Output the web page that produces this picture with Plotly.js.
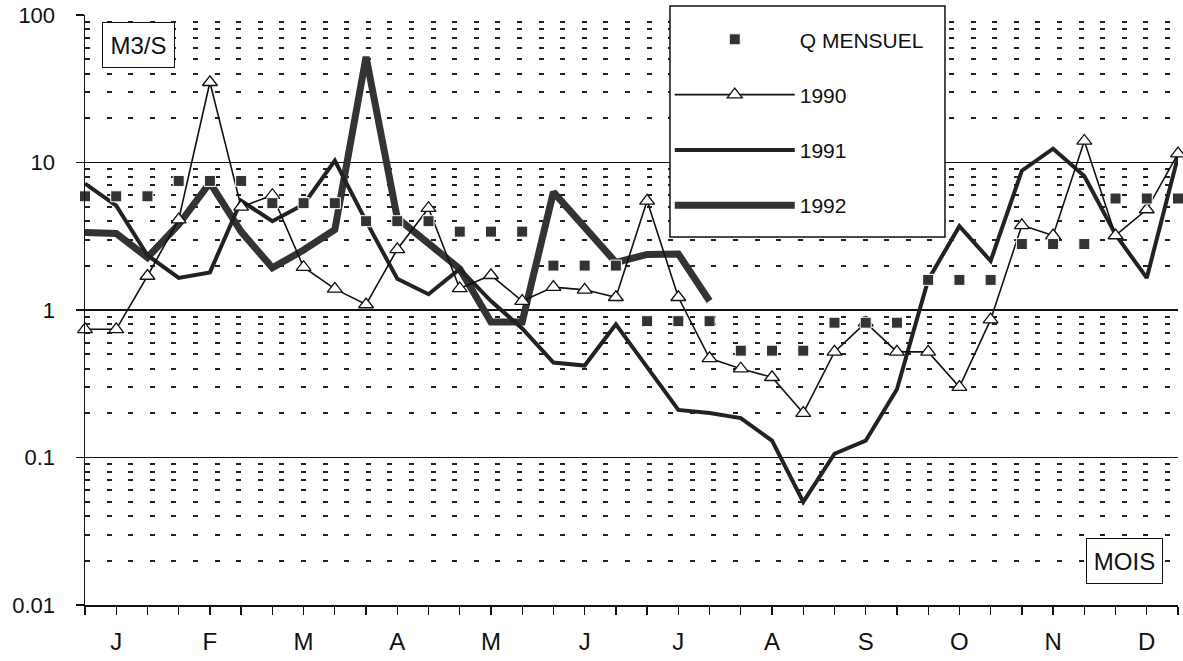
<!DOCTYPE html>
<html><head><meta charset="utf-8">
<script src="https://cdn.plot.ly/plotly-3.0.1.min.js"></script>
<style>html,body{margin:0;padding:0;background:#fff}</style>
</head><body><div id="chart" style="width:1183px;height:661px"></div>
<script>
// decade positions (3 per month)
const positions = [0,1,2,3,4,5,6,7,8,9,10,11,12,13,14,15,16,17,18,19,20,21,22,23,24,25,26,27,28,29,30,31,32,33,34,35];
const monthLabels = ['J','F','M','A','M','J','J','A','S','O','N','D'];
const qMensuel = [5.9,5.9,5.9, 7.5,7.5,7.5, 5.3,5.3,5.3, 4.0,4.0,4.0, 3.4,3.4,3.4, 2.0,2.0,2.0,
                  0.84,0.84,0.84, 0.53,0.53,0.53, 0.82,0.82,0.82, 1.6,1.6,1.6, 2.8,2.8,2.8, 5.7,5.7,5.7];
const y1990 = [0.74,0.74,1.7,4.1,35,5.0,6.0,1.95,1.39,1.09,2.58,4.9,1.4,1.72,1.15,1.43,1.37,1.22,
               5.5,1.22,0.47,0.4,0.35,0.2,0.52,0.82,0.52,0.52,0.3,0.86,3.75,3.2,14,3.2,4.8,11.5];
const y1991 = [7.2,5.1,2.35,1.65,1.8,5.5,4.0,5.2,10.3,4.0,1.63,1.28,1.9,1.15,0.75,0.44,0.42,0.8,
               0.41,0.21,0.2,0.185,0.13,0.05,0.106,0.13,0.29,1.6,3.7,2.15,8.8,12.4,8.1,3.25,1.65,11];
const y1992 = [3.35,3.3,2.27,3.8,7.3,3.4,1.93,2.55,3.5,52,4.2,2.86,1.9,0.83,0.83,6.3,3.6,2.1,2.38,2.4,1.15];
const yTickVals = [0.01,0.1,1,10,100];
const yTickText = ['0.01','0.1','1','10','100'];
const yMinorVals = [0.02,0.03,0.04,0.05,0.06,0.07,0.08,0.09,0.2,0.3,0.4,0.5,0.6,0.7,0.8,0.9,
                    2,3,4,5,6,7,8,9,20,30,40,50,60,70,80,90];

const xTickText = positions.map(p => (p % 3 === 1) ? monthLabels[(p - 1) / 3] : '');
const FONT = 'Liberation Sans, Arial, Helvetica, sans-serif';

const traces = [
  {x: positions.slice(0, y1992.length), y: y1992, name: '1992', mode: 'lines', type: 'scatter',
   line: {color: '#333', width: 7}, legendgroup: 'd', legendrank: 4, cliponaxis: false},
  {x: positions, y: y1991, name: '1991', mode: 'lines', type: 'scatter',
   line: {color: '#222', width: 4}, legendgroup: 'c', legendrank: 3, cliponaxis: false},
  {x: positions, y: y1990, name: '1990', mode: 'lines+markers', type: 'scatter',
   line: {color: '#111', width: 1.6},
   marker: {symbol: 'triangle-up', size: 13, color: '#fff', line: {color: '#111', width: 1.3}},
   legendgroup: 'b', legendrank: 2, cliponaxis: false},
  {x: positions, y: qMensuel, name: 'Q MENSUEL', mode: 'markers', type: 'scatter',
   marker: {symbol: 'square', size: 11, color: '#333', line: {color: '#fff', width: 1}},
   legendgroup: 'a', legendrank: 1, cliponaxis: false}
];

const layout = {
  width: 1183, height: 661,
  margin: {l: 85, r: 5, t: 15, b: 56, pad: 0},
  paper_bgcolor: '#fff', plot_bgcolor: '#fff',
  font: {family: FONT, color: '#111'},
  showlegend: true,
  legend: {x: 0.535, y: 1.015, xanchor: 'left', yanchor: 'top',
           bgcolor: 'rgba(0,0,0,0)', borderwidth: 0,
           font: {family: FONT, size: 21, color: '#111'},
           traceorder: 'grouped', tracegroupgap: 25, itemwidth: 120,
           title: {text: ' ', font: {size: 10}}},
  // legend frame (white box hiding the grid behind the legend)
  shapes: [
    {type: 'rect', xref: 'paper', yref: 'paper', x0: 0.5352, x1: 0.7868, y0: 0.6237, y1: 1.0153,
     fillcolor: '#fff', line: {color: '#111', width: 1.5}, layer: 'above'}
  ],
  xaxis: {range: [0, 35], tickvals: positions, ticktext: xTickText,
          ticks: 'outside', ticklen: 8, tickwidth: 1.3, tickcolor: '#111',
          showline: true, linecolor: '#111', linewidth: 1.5,
          showgrid: false, zeroline: false,
          tickfont: {family: FONT, size: 24, color: '#111'}, ticklabelstandoff: 7},
  xaxis2: {range: [0, 35], overlaying: 'x', anchor: 'y', side: 'bottom',
           tickvals: positions, ticktext: positions.map(() => ''),
           ticks: 'inside', ticklen: 9, tickwidth: 1.3, tickcolor: '#111',
           showline: false, showgrid: false, zeroline: false, showticklabels: false},
  yaxis: {type: 'log', range: [-2, 2], tickvals: yTickVals, ticktext: yTickText,
          ticks: 'outside', ticklen: 8, tickwidth: 1.3, tickcolor: '#111',
          showline: true, linecolor: '#111', linewidth: 1.5,
          showgrid: true, gridcolor: '#111', gridwidth: 1.2, zeroline: false,
          tickfont: {family: FONT, size: 22, color: '#111'}, ticklabelstandoff: 16,
          minor: {tickvals: yMinorVals, showgrid: true, gridcolor: '#222', gridwidth: 2,
                  griddash: '5px,16.6px', ticks: ''}},
  annotations: [
    {text: 'M3/S', xref: 'paper', yref: 'paper', x: 0.0489, y: 0.949,
     xanchor: 'center', yanchor: 'middle', showarrow: false,
     font: {family: FONT, size: 24, color: '#111'}, bgcolor: '#fff',
     bordercolor: '#111', borderwidth: 1, borderpad: 0, width: 71, height: 44},
    {text: 'MOIS', xref: 'paper', yref: 'paper', x: 0.951, y: 0.0746,
     xanchor: 'center', yanchor: 'middle', showarrow: false,
     font: {family: FONT, size: 24, color: '#111'}, bgcolor: '#fff',
     bordercolor: '#111', borderwidth: 1, borderpad: 0, width: 75, height: 44}
  ]
};

Plotly.newPlot('chart', traces, layout, {staticPlot: true, displayModeBar: false});
</script></body></html>
